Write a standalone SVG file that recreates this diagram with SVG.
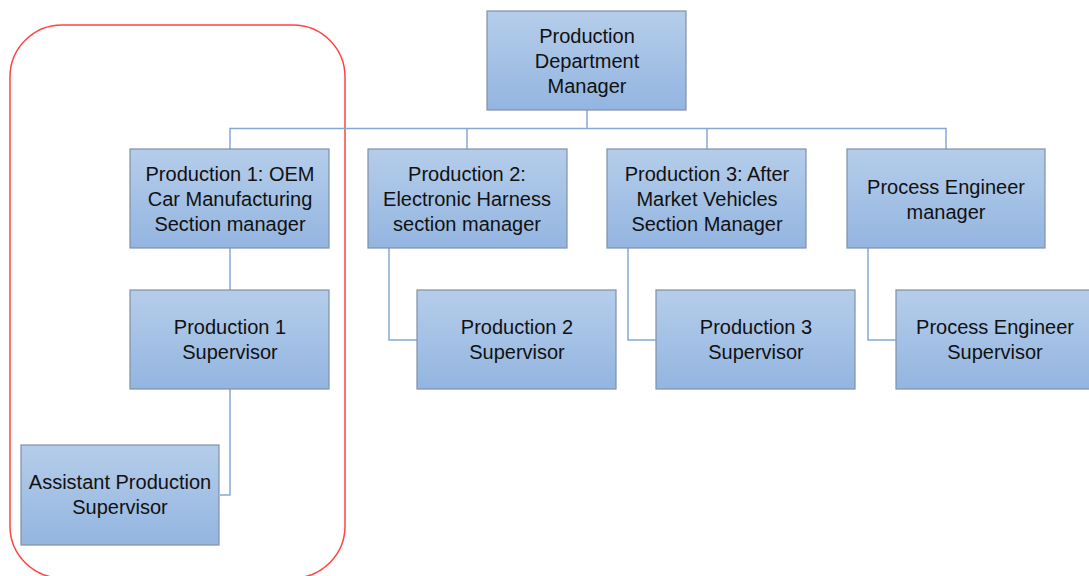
<svg xmlns="http://www.w3.org/2000/svg" width="1089" height="576" viewBox="0 0 1089 576">
<defs>
<linearGradient id="g" x1="0" y1="0" x2="0" y2="1">
<stop offset="0" stop-color="#b5cdea"/>
<stop offset="1" stop-color="#93b5e0"/>
</linearGradient>
</defs>
<style>
.box{fill:url(#g);stroke:#7f90a8;stroke-width:1.2}
.t{font-family:"Liberation Sans",Arial,sans-serif;font-size:20px;fill:#111;text-anchor:middle}
.c{fill:none;stroke:#86a9d2;stroke-width:1.5}
</style>
<rect width="1089" height="576" fill="#fff"/>
<rect x="10" y="25" width="335" height="553" rx="52" ry="52" fill="none" stroke="#f44" stroke-width="1.5"/>
<g id="connectors">
<path class="c" d="M587 110V128.5M230 149V128.5H946V149M467 128.5V149M707 128.5V149"/>
<path class="c" d="M230 248V290M230 389V495H220"/>
<path class="c" d="M389 248V340H417M628 248V340H656M868 248V340H896"/>
</g>
<g id="n0"><rect class="box" x="487" y="11" width="199" height="99"/>
<text class="t" x="587" y="43">Production</text><text class="t" x="587" y="68">Department</text><text class="t" x="587" y="93">Manager</text></g>
<g id="n1"><rect class="box" x="130" y="149" width="199" height="99"/>
<text class="t" x="230" y="181">Production 1: OEM</text><text class="t" x="230" y="206">Car Manufacturing</text><text class="t" x="230" y="231">Section manager</text></g>
<g id="n2"><rect class="box" x="368" y="149" width="199" height="99"/>
<text class="t" x="467" y="181">Production 2:</text><text class="t" x="467" y="206">Electronic Harness</text><text class="t" x="467" y="231">section manager</text></g>
<g id="n3"><rect class="box" x="607" y="149" width="199" height="99"/>
<text class="t" x="707" y="181">Production 3: After</text><text class="t" x="707" y="206">Market Vehicles</text><text class="t" x="707" y="231">Section Manager</text></g>
<g id="n4"><rect class="box" x="847" y="149" width="198" height="99"/>
<text class="t" x="946" y="194">Process Engineer</text><text class="t" x="946" y="219">manager</text></g>
<g id="n5"><rect class="box" x="130" y="290" width="199" height="99"/>
<text class="t" x="230" y="334">Production 1</text><text class="t" x="230" y="359">Supervisor</text></g>
<g id="n6"><rect class="box" x="417" y="290" width="199" height="99"/>
<text class="t" x="517" y="334">Production 2</text><text class="t" x="517" y="359">Supervisor</text></g>
<g id="n7"><rect class="box" x="656" y="290" width="199" height="99"/>
<text class="t" x="756" y="334">Production 3</text><text class="t" x="756" y="359">Supervisor</text></g>
<g id="n8"><rect class="box" x="896" y="290" width="199" height="99"/>
<text class="t" x="995" y="334">Process Engineer</text><text class="t" x="995" y="359">Supervisor</text></g>
<g id="n9"><rect class="box" x="21" y="445" width="198" height="100"/>
<text class="t" x="120" y="489">Assistant Production</text><text class="t" x="120" y="514">Supervisor</text></g>
</svg>
